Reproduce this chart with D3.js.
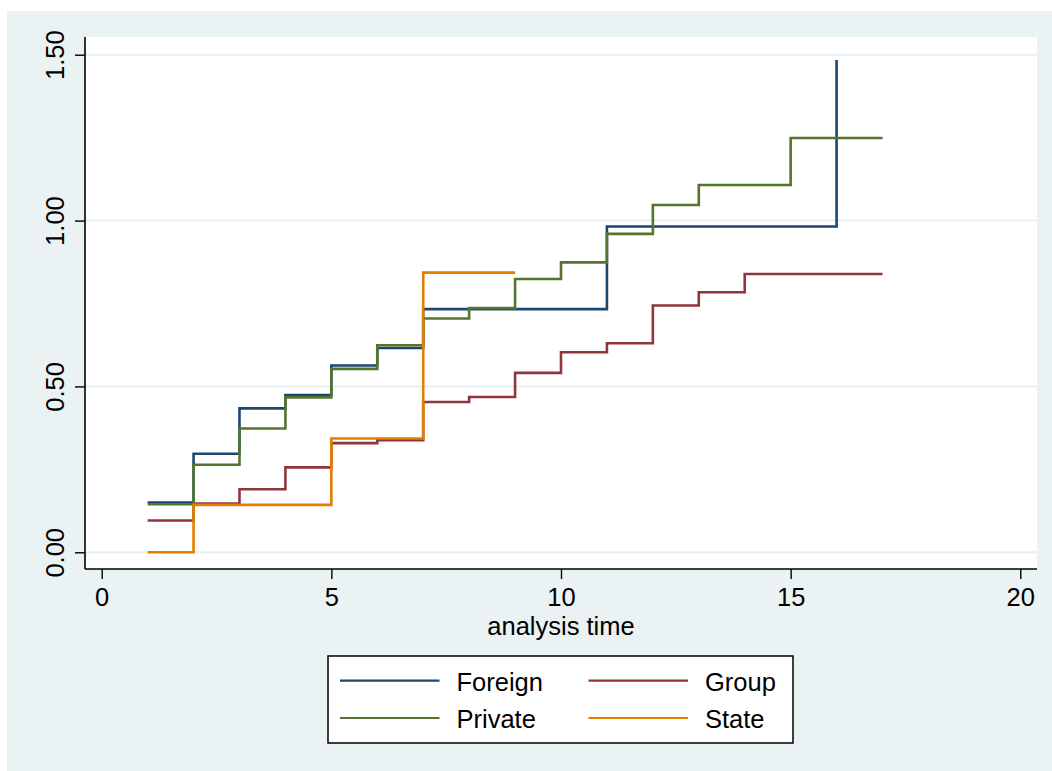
<!DOCTYPE html>
<html>
<head>
<meta charset="utf-8">
<script src="https://cdn.jsdelivr.net/npm/d3@7"></script>
<style>
  html, body { margin: 0; padding: 0; background: #ffffff; }
  svg { display: block; }
  text { font-family: "Liberation Sans", Arial, Helvetica, sans-serif; fill: #000; }
</style>
</head>
<body>
<svg id="chart" width="1052" height="771"></svg>
<script>
// Nelson–Aalen cumulative hazard by ownership type
const seriesNames = ["Foreign", "Group", "Private", "State"];
const seriesColors = ["#1a476f", "#90353b", "#55752f", "#e37e00"];

const foreignTime = [1, 2, 3, 4, 5, 6, 7, 11, 16];
const foreignHaz  = [0.150, 0.297, 0.434, 0.474, 0.563, 0.616, 0.733, 0.982, 1.484];

const groupTime = [1, 2, 3, 4, 5, 6, 7, 8, 9, 10, 11, 12, 13, 14, 17];
const groupHaz  = [0.096, 0.147, 0.190, 0.256, 0.329, 0.338, 0.453, 0.468, 0.541, 0.603, 0.630, 0.744, 0.784, 0.839, 0.839];

const privateTime = [1, 2, 3, 4, 5, 6, 7, 8, 9, 10, 11, 12, 13, 15, 17];
const privateHaz  = [0.145, 0.264, 0.373, 0.467, 0.553, 0.624, 0.705, 0.736, 0.824, 0.874, 0.960, 1.047, 1.107, 1.249, 1.249];

const stateTime = [1, 2, 5, 7, 9];
const stateHaz  = [0.000, 0.143, 0.343, 0.843, 0.843];

const xTicks = [0, 5, 10, 15, 20];
const yTicks = [0, 0.5, 1.0, 1.5];
const xTitle = "analysis time";

const seriesTimes = [foreignTime, groupTime, privateTime, stateTime];
const seriesHaz = [foreignHaz, groupHaz, privateHaz, stateHaz];

const svg = d3.select("#chart");
const FONT = 25.5;

// graph region
svg.append("rect").attr("x", 7).attr("y", 11).attr("width", 1045).attr("height", 760)
  .attr("fill", "#eaf2f3");

// plot region
const plot = { left: 85, right: 1037, top: 37, bottom: 569 };
svg.append("rect").attr("x", plot.left).attr("y", plot.top)
  .attr("width", plot.right - plot.left).attr("height", plot.bottom - plot.top)
  .attr("fill", "#ffffff");

const x = d3.scaleLinear().domain([0, 20]).range([101.7, 1020.3]);
const y = d3.scaleLinear().domain([0, 1.5]).range([552.3, 54.7]);

// horizontal grid
svg.append("g").selectAll("line").data(yTicks).join("line")
  .attr("x1", plot.left).attr("x2", plot.right)
  .attr("y1", d => y(d)).attr("y2", d => y(d))
  .attr("stroke", "#e6eff1").attr("stroke-width", 2);

// step curves
const line = d3.line().x(d => x(d[0])).y(d => y(d[1])).curve(d3.curveStepAfter);
seriesNames.forEach((name, i) => {
  const pts = seriesTimes[i].map((t, j) => [t, seriesHaz[i][j]]);
  svg.append("path").datum(pts)
    .attr("d", line)
    .attr("fill", "none")
    .attr("stroke", seriesColors[i])
    .attr("stroke-width", 2.6)
    .attr("stroke-linejoin", "miter")
    .attr("stroke-linecap", "butt");
});

// y axis
const yAxis = d3.axisLeft(y).tickValues(yTicks).tickSize(10).tickFormat(d3.format(".2f"));
const gy = svg.append("g").attr("transform", `translate(${plot.left},0)`).call(yAxis);
gy.select(".domain").remove();
gy.selectAll(".tick line").attr("stroke", "#000").attr("stroke-width", 1.4);
gy.selectAll(".tick text")
  .attr("font-size", FONT)
  .attr("text-anchor", "middle")
  .attr("x", 0).attr("y", 0).attr("dy", null)
  .attr("transform", "translate(-21.5,0) rotate(-90)");
svg.append("line").attr("x1", plot.left).attr("x2", plot.left)
  .attr("y1", plot.top).attr("y2", plot.bottom)
  .attr("stroke", "#000").attr("stroke-width", 1.6);

// x axis
const xAxis = d3.axisBottom(x).tickValues(xTicks).tickSize(10).tickFormat(d3.format("d"));
const gx = svg.append("g").attr("transform", `translate(0,${plot.bottom})`).call(xAxis);
gx.select(".domain").remove();
gx.selectAll(".tick line").attr("stroke", "#000").attr("stroke-width", 1.4);
gx.selectAll(".tick text").attr("font-size", FONT).attr("y", 37).attr("dy", null);
svg.append("line").attr("x1", plot.left).attr("x2", plot.right)
  .attr("y1", plot.bottom).attr("y2", plot.bottom)
  .attr("stroke", "#000").attr("stroke-width", 1.6);

svg.append("text").attr("x", (x(0) + x(20)) / 2).attr("y", 635)
  .attr("text-anchor", "middle").attr("font-size", FONT).text(xTitle);

// legend
const lg = svg.append("g");
lg.append("rect").attr("x", 328).attr("y", 656).attr("width", 465).attr("height", 87)
  .attr("fill", "#ffffff").attr("stroke", "#000").attr("stroke-width", 1.5);
const cols = [340, 588.5];
const rows = [680.7, 718];
seriesNames.forEach((name, i) => {
  const cx = cols[i % 2], cy = rows[Math.floor(i / 2)];
  lg.append("line").attr("x1", cx).attr("x2", cx + 99.5)
    .attr("y1", cy).attr("y2", cy)
    .attr("stroke", seriesColors[i]).attr("stroke-width", 2.2);
  lg.append("text").attr("x", cx + 116.5).attr("y", cy + 9.8)
    .attr("font-size", FONT).text(name);
});
</script>
</body>
</html>
